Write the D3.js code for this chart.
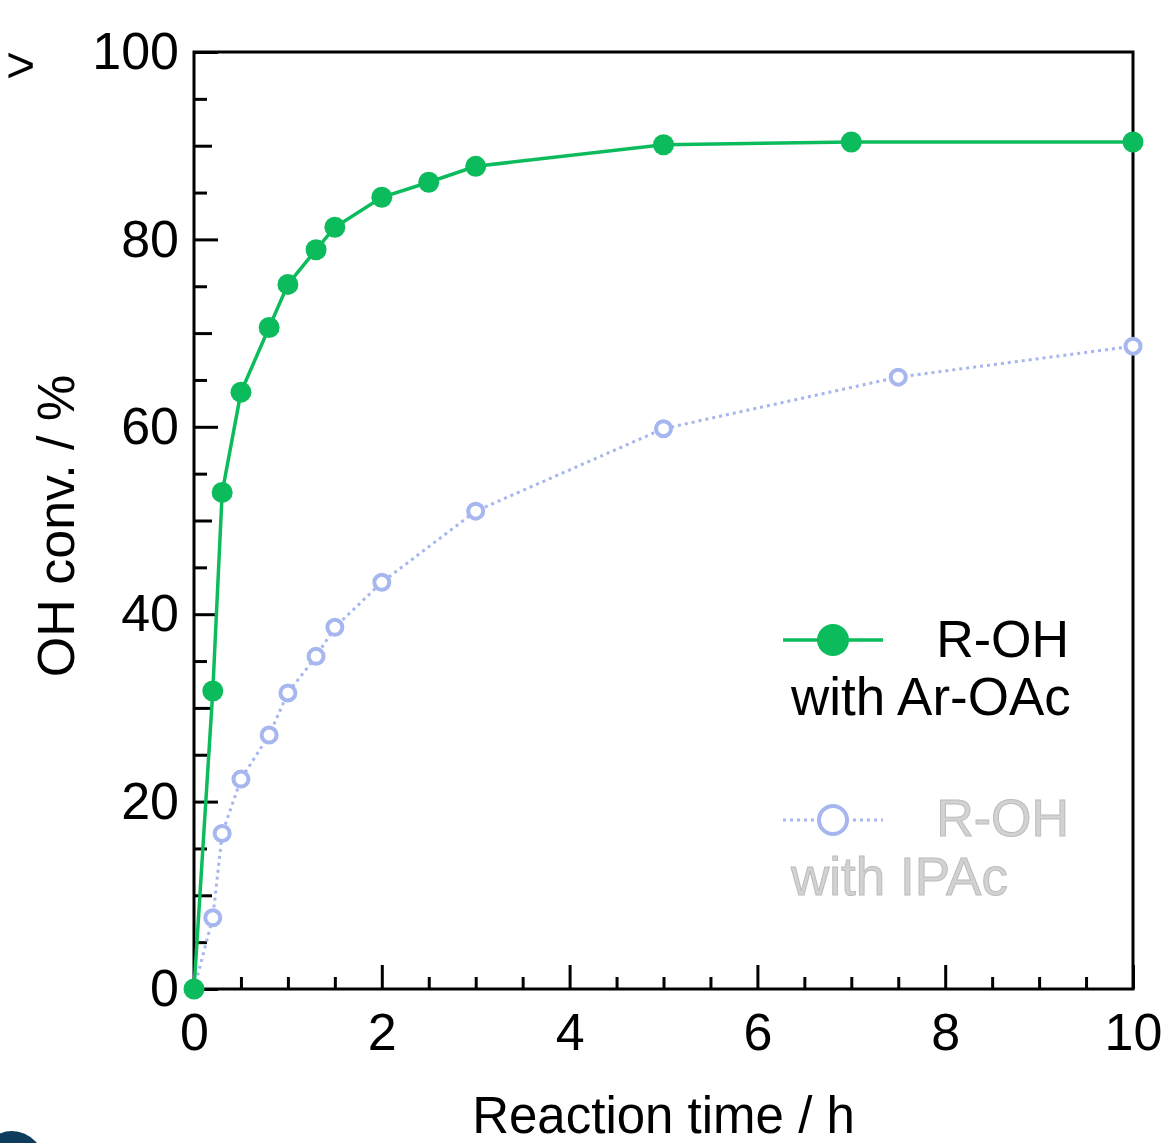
<!DOCTYPE html>
<html>
<head>
<meta charset="utf-8">
<script src="https://cdn.jsdelivr.net/npm/d3@7"></script>
<style>
  body { margin: 0; background: #fff; }
  svg text { font-family: "Liberation Sans", Arial, sans-serif; }
</style>
</head>
<body>
<div id="chart"></div>
<script>
var width = 1167,
    height = 1143;

// data
var timesArOAc = [0, 0.2, 0.3, 0.5, 0.8, 1, 1.3, 1.5, 2, 2.5, 3, 5, 7, 10];
var convArOAc  = [0, 31.8, 53.0, 63.7, 70.6, 75.2, 78.9, 81.3, 84.5, 86.1, 87.8, 90.1, 90.4, 90.4];
var timesIPAc  = [0, 0.2, 0.3, 0.5, 0.8, 1, 1.3, 1.5, 2, 3, 5, 7.5, 10];
var convIPAc   = [0, 7.6, 16.6, 22.4, 27.1, 31.6, 35.5, 38.6, 43.4, 51.0, 59.8, 65.3, 68.6];
var xTickLabels = [0, 2, 4, 6, 8, 10];
var yTickLabels = [0, 20, 40, 60, 80, 100];

var green = "#0cbc5c",
    blue = "#a6b6ee";

var margin = {left: 194, right: 34, top: 52, bottom: 154};

var svg = d3.select("#chart").append("svg")
    .attr("width", width)
    .attr("height", height)

var x = d3.scaleLinear().domain([0, 10]).range([margin.left, width - margin.right]);
var y = d3.scaleLinear().domain([0, 100]).range([height - margin.bottom, margin.top]);

var g = svg.append("g");

/* minor and major ticks, pointing inward */
function tickAxis(axis, vals, len, labels) {
  var a = axis.tickValues(vals).tickSize(-len).tickSizeOuter(0);
  if (!labels) a.tickFormat("");
  else a.tickFormat(d3.format("d"));
  return a;
}

var xMinor = d3.range(0, 10.01, 0.5).filter(function(d){ return d % 2 !== 0 });
var yFive = d3.range(5, 100, 10);
var yTen = [10, 30, 50, 70, 90];

g.append("g").attr("transform", "translate(0," + y(0) + ")")
    .call(tickAxis(d3.axisBottom(x), xMinor, 12, false));
g.append("g").attr("transform", "translate(0," + y(0) + ")")
    .call(tickAxis(d3.axisBottom(x), xTickLabels, 24, true).tickPadding(24));

g.append("g").attr("transform", "translate(" + x(0) + ",0)")
    .call(tickAxis(d3.axisLeft(y), yFive, 13, false));
g.append("g").attr("transform", "translate(" + x(0) + ",0)")
    .call(tickAxis(d3.axisLeft(y), yTen, 18, false));
g.append("g").attr("transform", "translate(" + x(0) + ",0)")
    .call(tickAxis(d3.axisLeft(y), yTickLabels, 24, true).tickPadding(15));

g.selectAll(".domain").remove();
g.selectAll(".tick line").attr("stroke", "#000").attr("stroke-width", 3);
g.selectAll(".tick text")
    .attr("fill", "#000")
    .style("font-size", "52px");

/* frame */
svg.append("rect")
    .attr("x", x(0)).attr("y", y(100))
    .attr("width", x(10) - x(0)).attr("height", y(0) - y(100))
    .attr("fill", "none").attr("stroke", "#000").attr("stroke-width", 3);

/* axis titles */
svg.append("text")
    .attr("x", (x(0) + x(10)) / 2).attr("y", 1133)
    .attr("text-anchor", "middle")
    .style("font-size", "51px")
    .text("Reaction time / h");

svg.append("text")
    .attr("transform", "translate(74,526) rotate(-90)")
    .attr("text-anchor", "middle")
    .style("font-size", "52px")
    .text("OH conv. / %");

/* stray bits around the figure */
svg.append("text")
    .attr("x", 6).attr("y", 82)
    .style("font-size", "50px")
    .text(">");
svg.append("ellipse")
    .attr("cx", 12).attr("cy", 1166)
    .attr("rx", 33).attr("ry", 35)
    .attr("fill", "#0e3c5c");

/* series */
var ptsIPAc = timesIPAc.map(function(t, i){ return {t: t, v: convIPAc[i]} });
var ptsArOAc = timesArOAc.map(function(t, i){ return {t: t, v: convArOAc[i]} });

var line = d3.line()
    .x(function(d){ return x(d.t) })
    .y(function(d){ return y(d.v) });

svg.append("path")
    .datum(ptsIPAc)
    .attr("d", line)
    .attr("fill", "none")
    .attr("stroke", blue)
    .attr("stroke-width", 3)
    .attr("stroke-dasharray", "3,4");

svg.selectAll("circle.ipac")
    .data(ptsIPAc.slice(1))
    .enter().append("circle")
    .attr("class", "ipac")
    .attr("cx", function(d){ return x(d.t) })
    .attr("cy", function(d){ return y(d.v) })
    .attr("r", 7.5)
    .attr("fill", "#fff")
    .attr("stroke", blue)
    .attr("stroke-width", 4);

svg.append("path")
    .datum(ptsArOAc)
    .attr("d", line)
    .attr("fill", "none")
    .attr("stroke", green)
    .attr("stroke-width", 3.5);

svg.selectAll("circle.aroac")
    .data(ptsArOAc)
    .enter().append("circle")
    .attr("class", "aroac")
    .attr("cx", function(d){ return x(d.t) })
    .attr("cy", function(d){ return y(d.v) })
    .attr("r", 10.5)
    .attr("fill", green);

/* legend */
var leg = svg.append("g");
leg.append("line")
    .attr("x1", 783).attr("x2", 883).attr("y1", 640).attr("y2", 640)
    .attr("stroke", green).attr("stroke-width", 3.5);
leg.append("circle")
    .attr("cx", 833).attr("cy", 640).attr("r", 16)
    .attr("fill", green);
leg.append("text")
    .attr("x", 1069).attr("y", 657)
    .attr("text-anchor", "end")
    .style("font-size", "52px")
    .text("R-OH");
leg.append("text")
    .attr("x", 791).attr("y", 715)
    .style("font-size", "53px")
    .text("with Ar-OAc");

leg.append("line")
    .attr("x1", 783).attr("x2", 883).attr("y1", 820).attr("y2", 820)
    .attr("stroke", blue).attr("stroke-width", 3)
    .attr("stroke-dasharray", "3,4");
leg.append("circle")
    .attr("cx", 833).attr("cy", 820).attr("r", 14)
    .attr("fill", "#fff")
    .attr("stroke", blue).attr("stroke-width", 4);
leg.append("text")
    .attr("x", 1069).attr("y", 836)
    .attr("text-anchor", "end")
    .attr("fill", "#d2d2d2").attr("stroke", "#bcbcbc").attr("stroke-width", 1)
    .style("font-size", "52px")
    .text("R-OH");
leg.append("text")
    .attr("x", 791).attr("y", 895)
    .attr("fill", "#d2d2d2").attr("stroke", "#bcbcbc").attr("stroke-width", 1)
    .style("font-size", "53px")
    .text("with IPAc");
</script>
</body>
</html>
